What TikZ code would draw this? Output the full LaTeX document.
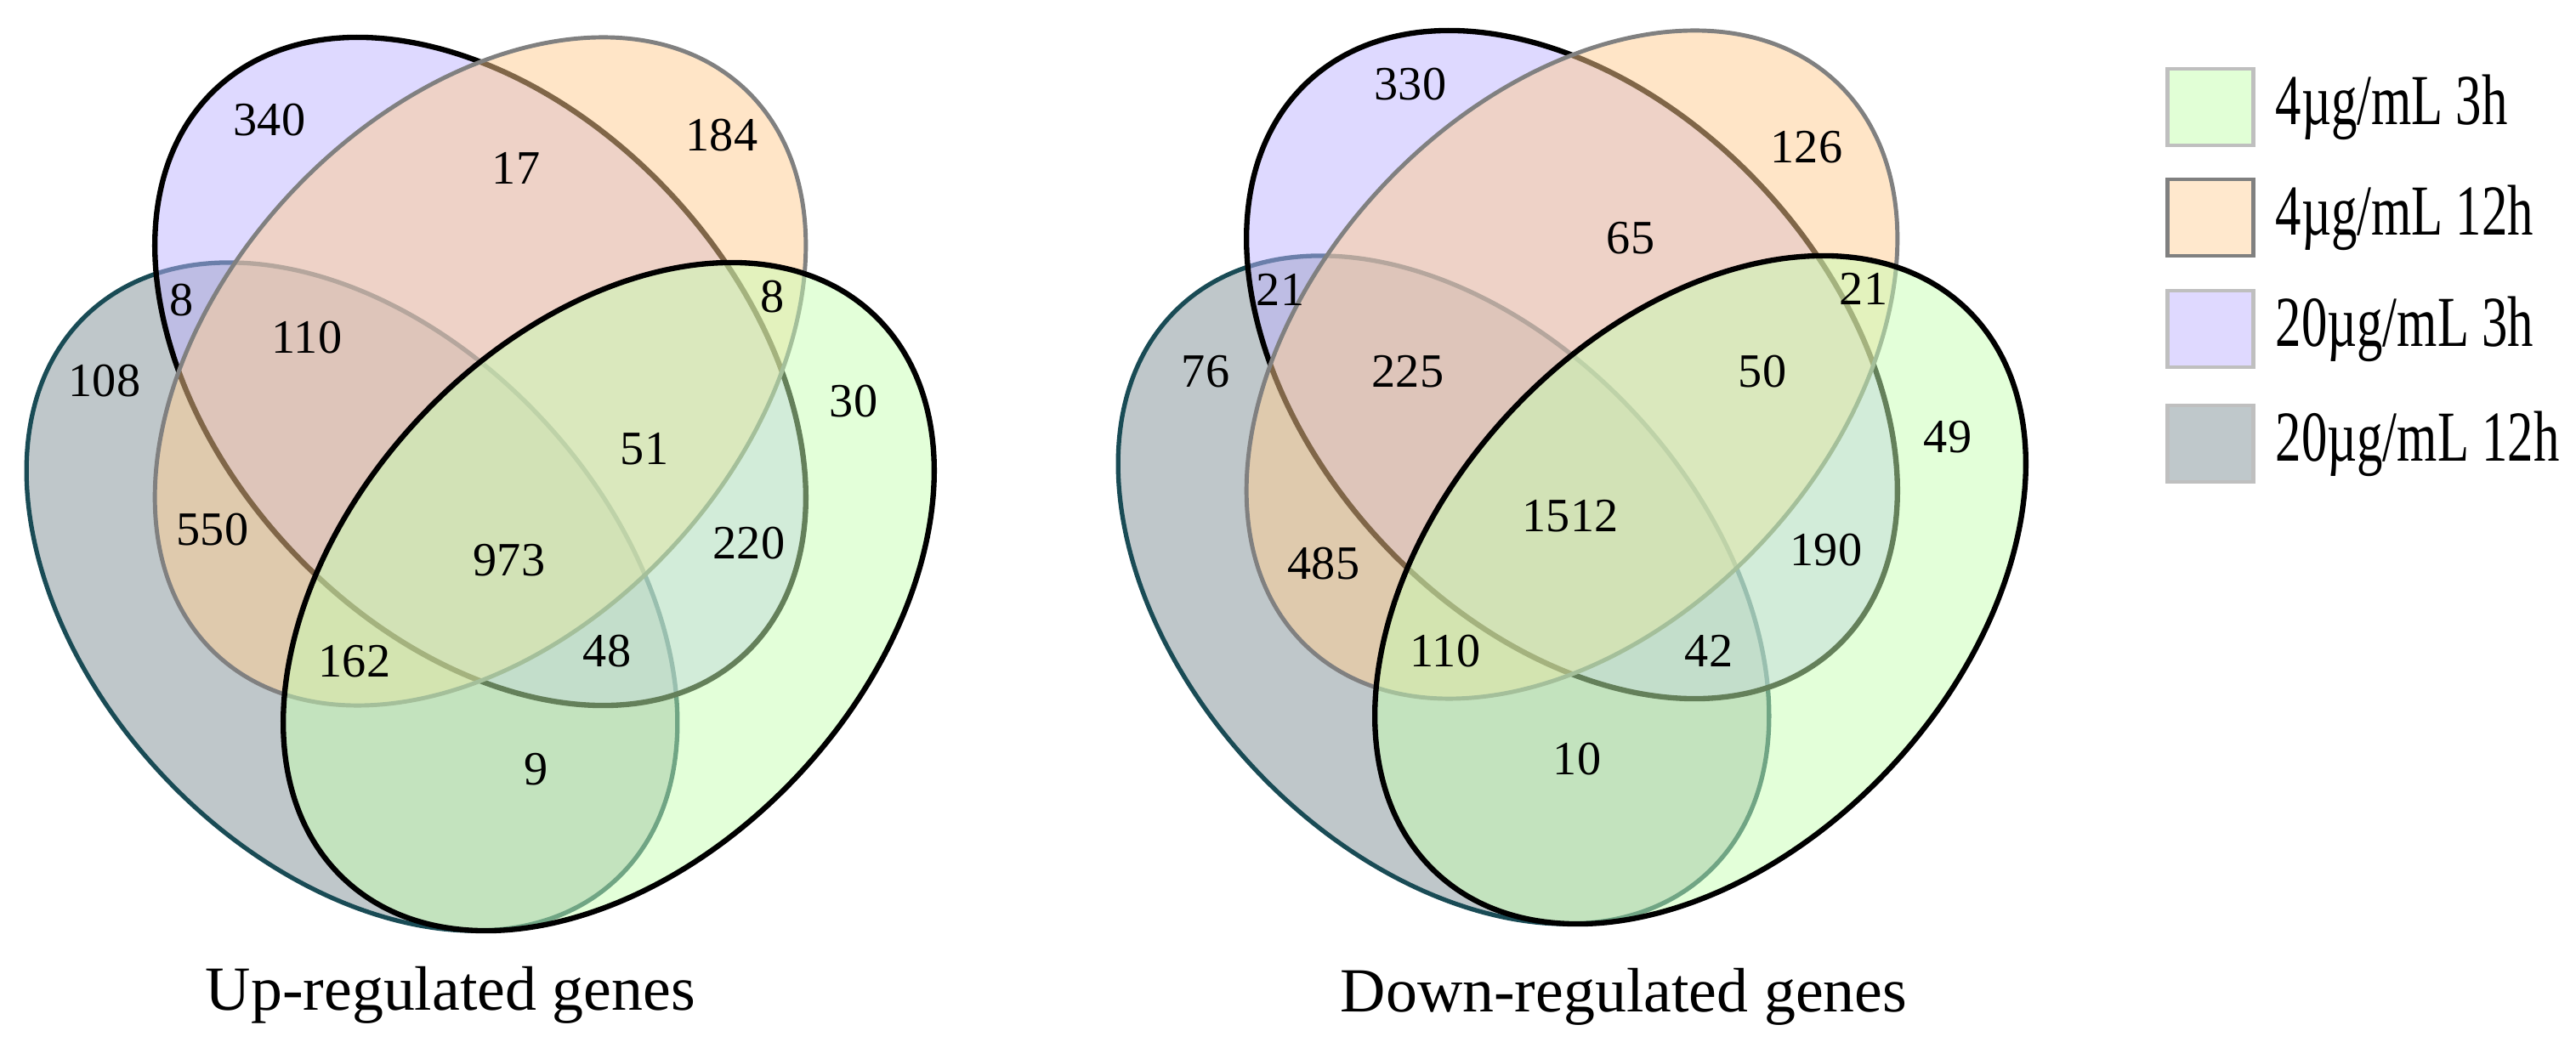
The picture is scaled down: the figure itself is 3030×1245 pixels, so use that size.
\documentclass[tikz,border=0pt]{standalone}
\usepackage{fontspec}
\setmainfont{Liberation Serif}
\begin{document}
\begin{tikzpicture}[x=0.01cm,y=0.01cm,
  num/.style={font=\fontsize{16}{18}\selectfont, inner sep=0pt},
  ttl/.style={font=\fontsize{21}{25}\selectfont, inner sep=0pt},
  leg/.style={font=\fontsize{24}{28}\selectfont, inner sep=0pt, anchor=west},
  lbox/.style={line width=1.2pt, minimum width=1.01cm, minimum height=0.9cm, inner sep=0pt}]
\definecolor{cpur}{RGB}{190,180,255}
\definecolor{cora}{RGB}{255,205,145}
\definecolor{cgre}{RGB}{200,255,180}
\definecolor{cgry}{RGB}{128,145,150}
\definecolor{bgry}{RGB}{25,75,85}
\useasboundingbox (0,0) rectangle (3030,1245);
\fill[white] (0,0) rectangle (3030,1245);
\tikzset{
  egray/.style={fill=cgry, fill opacity=0.5, draw=bgry, draw opacity=1, line width=1.5pt},
  epur/.style={fill=cpur, fill opacity=0.5, draw=black, line width=1.8pt},
  eora/.style={fill=cora, fill opacity=0.5, draw=black!50, line width=1.4pt},
  egre/.style={fill=cgre, fill opacity=0.5, draw=black, line width=1.8pt}}
% left diagram
\draw[egray, shift={(414,543)}, rotate=-47] (0,0) ellipse [x radius=4.55cm, y radius=3.06cm];
\draw[epur, shift={(565,808)}, rotate=-47] (0,0) ellipse [x radius=4.55cm, y radius=3.06cm];
\draw[eora, shift={(565,808)}, rotate=47] (0,0) ellipse [x radius=4.55cm, y radius=3.06cm];
\draw[egre, shift={(716,543)}, rotate=47] (0,0) ellipse [x radius=4.55cm, y radius=3.06cm];
% right diagram
\draw[egray, shift={(1698,551)}, rotate=-47] (0,0) ellipse [x radius=4.55cm, y radius=3.06cm];
\draw[epur, shift={(1849,816)}, rotate=-47] (0,0) ellipse [x radius=4.55cm, y radius=3.06cm];
\draw[eora, shift={(1849,816)}, rotate=47] (0,0) ellipse [x radius=4.55cm, y radius=3.06cm];
\draw[egre, shift={(2000,551)}, rotate=47] (0,0) ellipse [x radius=4.55cm, y radius=3.06cm];
% left numbers
\node[num] (l1) at (317,1104) {340};
\node[num] (l2) at (607,1047) {17};
\node[num] (l3) at (849,1086) {184};
\node[num] (l4) at (214,892) {8};
\node[num] (l5) at (909,896) {8};
\node[num] (l6) at (361,848) {110};
\node[num] (l7) at (123,797) {108};
\node[num] (l8) at (1004,773) {30};
\node[num] (l9) at (758,717) {51};
\node[num] (l10) at (250,622) {550};
\node[num] (l11) at (599,586) {973};
\node[num] (l12) at (881,606) {220};
\node[num] (l13) at (417,467) {162};
\node[num] (l14) at (714,479) {48};
\node[num] (l15) at (631,340) {9};
\node[ttl] (t1) at (530,74) {Up-regulated genes};
% right numbers
\node[num] (r1) at (1659,1146) {330};
\node[num] (r2) at (2125,1072) {126};
\node[num] (r3) at (1918,965) {65};
\node[num] (r4) at (1506,904) {21};
\node[num] (r5) at (2192,905) {21};
\node[num] (r6) at (1418,808) {76};
\node[num] (r7) at (1656,808) {225};
\node[num] (r8) at (2073,808) {50};
\node[num] (r9) at (2291,731) {49};
\node[num] (r10) at (1847,638) {1512};
\node[num] (r11) at (1557,582) {485};
\node[num] (r12) at (2148,598) {190};
\node[num] (r13) at (1700,479) {110};
\node[num] (r14) at (2010,479) {42};
\node[num] (r15) at (1855,352) {10};
\node[ttl] (t2) at (1910,72) {Down-regulated genes};
% legend
\node[lbox, draw=black!25, fill=cgre!55] (b1) at (2600,1119) {};
\node[lbox, draw=black!50, fill=cora!45] (b2) at (2600,989) {};
\node[lbox, draw=black!25, fill=cpur!50] (b3) at (2600,858) {};
\node[lbox, draw=black!25, fill=cgry!50] (b4) at (2600,723) {};
\node[leg] (g1) at (2676,1119) {\scalebox{0.72}[1]{4µg/mL 3h}};
\node[leg] (g2) at (2676,989) {\scalebox{0.72}[1]{4µg/mL 12h}};
\node[leg] (g3) at (2676,858) {\scalebox{0.72}[1]{20µg/mL 3h}};
\node[leg] (g4) at (2676,723) {\scalebox{0.72}[1]{20µg/mL 12h}};
\end{tikzpicture}
\end{document}
